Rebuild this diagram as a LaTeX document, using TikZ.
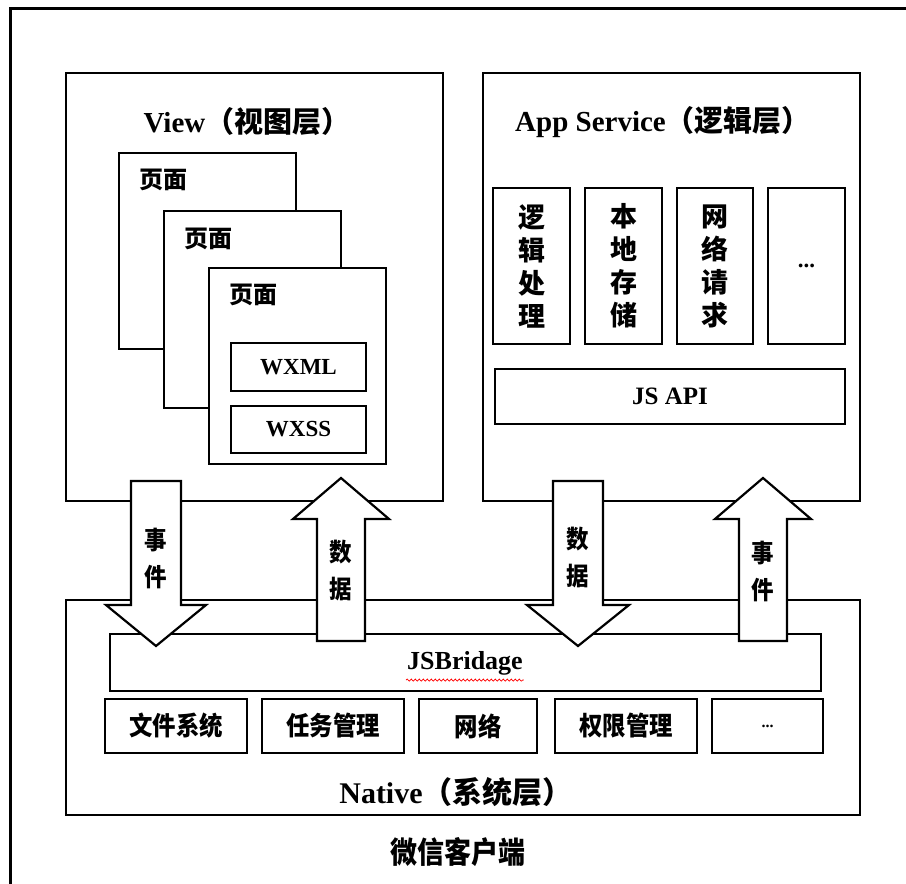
\documentclass[tikz,border=0pt]{standalone}
\usepackage{fontspec}
\setmainfont{Liberation Serif}
\newfontfamily\cjk{Noto Sans CJK SC}
\newfontfamily\cjkn[FakeStretch=0.9]{Noto Sans CJK SC}
\usetikzlibrary{decorations.pathmorphing}
\begin{document}
\begin{tikzpicture}[x=1pt,y=-1pt,
  box/.style={draw=black, line width=2.6pt, fill=white, inner sep=0pt},
  thinbox/.style={draw=black, line width=2.4pt, fill=white, inner sep=0pt},
  title/.style={font=\fontsize{29}{34}\selectfont\bfseries},
  pagelbl/.style={anchor=west, inner sep=0pt, font=\fontsize{24}{28}\selectfont\bfseries\cjk},
  vlbl/.style={align=center, font=\fontsize{27}{33}\selectfont\bfseries\cjk},
  code/.style={font=\fontsize{23}{26}\selectfont\bfseries},
  nlbl/.style={font=\fontsize{26}{30}\selectfont\bfseries\cjkn},
  alabel/.style={align=center, font=\fontsize{25}{37}\selectfont\bfseries\cjkn},
  blockarrow/.style={draw=black, line width=2.2pt, fill=white, line join=miter}
]
\useasboundingbox (0,0) rectangle (906,884);
% outer frame (only left and top visible)
\draw[line width=3pt] (10,884) -- (10,8) -- (906,8);

% View layer
\node[box, minimum width=377pt, minimum height=428pt] (view) at (254.5,287) {};
\node[title] (viewtitle) at (247,122) {View\cjk （视图层）};
\node[thinbox, minimum width=177pt, minimum height=196pt] (page1) at (207.5,251) {};
\node[pagelbl] (page1lbl) at (139,180) {页面};
\node[thinbox, minimum width=177pt, minimum height=197pt] (page2) at (252.5,309.5) {};
\node[pagelbl] (page2lbl) at (184,239) {页面};
\node[thinbox, minimum width=177pt, minimum height=196pt] (page3) at (297.5,366) {};
\node[pagelbl] (page3lbl) at (229,295) {页面};
\node[thinbox, minimum width=135pt, minimum height=48pt, code] (wxml) at (298.5,367) {WXML};
\node[thinbox, minimum width=135pt, minimum height=47pt, code] (wxss) at (298.5,429.5) {WXSS};

% App Service layer
\node[box, minimum width=377pt, minimum height=428pt] (app) at (671.5,287) {};
\node[title] (apptitle) at (663,122) {App Service\cjk （逻辑层）};
\node[thinbox, minimum width=77pt, minimum height=156pt, vlbl] (logic) at (531.5,266) {逻\\辑\\处\\理};
\node[thinbox, minimum width=77pt, minimum height=156pt, vlbl] (storage) at (623.5,266) {本\\地\\存\\储};
\node[thinbox, minimum width=76pt, minimum height=156pt, vlbl] (netreq) at (715,266) {网\\络\\请\\求};
\node[thinbox, minimum width=77pt, minimum height=156pt, code] (appmore) at (806.5,266) {...};
\node[thinbox, minimum width=350pt, minimum height=55pt, font=\fontsize{25}{28}\selectfont\bfseries] (jsapi) at (670,396.5) {JS API};

% Native layer
\node[box, minimum width=794pt, minimum height=215pt] (native) at (463,707.5) {};
\node[thinbox, minimum width=711pt, minimum height=57pt] (jsb) at (465.5,662.5) {};
\node[font=\fontsize{26}{28}\selectfont\bfseries, inner sep=1pt] (jsbtext) at (465,663) {JSBridage};
\draw[red, line width=0.7pt, decorate, decoration={snake, segment length=4pt, amplitude=1.1pt}]
  ([yshift=-4pt]jsbtext.south west) -- ([yshift=-4pt]jsbtext.south east);
\node[thinbox, minimum width=142pt, minimum height=54pt, nlbl] (fs) at (176,726) {文件系统};
\node[thinbox, minimum width=142pt, minimum height=54pt, nlbl] (task) at (333,726) {任务管理};
\node[thinbox, minimum width=118pt, minimum height=54pt, nlbl] (net) at (478,726) {网络};
\node[thinbox, minimum width=142pt, minimum height=54pt, nlbl] (perm) at (626,726) {权限管理};
\node[thinbox, minimum width=111pt, minimum height=54pt, font=\fontsize{16}{18}\selectfont\bfseries] (natmore) at (767.5,726) {...};
\node[font=\fontsize{30}{34}\selectfont\bfseries] (nativetitle) at (456,792) {Native\cjk （系统层）};
\node[font=\fontsize{30}{34}\selectfont\bfseries\cjkn] (client) at (458,852) {微信客户端};

% block arrows
\draw[blockarrow] (131,481) -- (181,481) -- (181,605) -- (206,605) -- (156,646) -- (106,605) -- (131,605) -- cycle;
\node[alabel] (ev1) at (156,558) {事\\件};
\draw[blockarrow] (317,641) -- (365,641) -- (365,519) -- (389,519) -- (341,478) -- (293,519) -- (317,519) -- cycle;
\node[alabel] (data1) at (341,571) {数\\据};
\draw[blockarrow] (553,481) -- (603,481) -- (603,605) -- (629,605) -- (578,646) -- (527,605) -- (553,605) -- cycle;
\node[alabel] (data2) at (578,558) {数\\据};
\draw[blockarrow] (739,641) -- (787,641) -- (787,519) -- (811,519) -- (763,478) -- (715,519) -- (739,519) -- cycle;
\node[alabel] (ev2) at (763,571) {事\\件};
\end{tikzpicture}
\end{document}
